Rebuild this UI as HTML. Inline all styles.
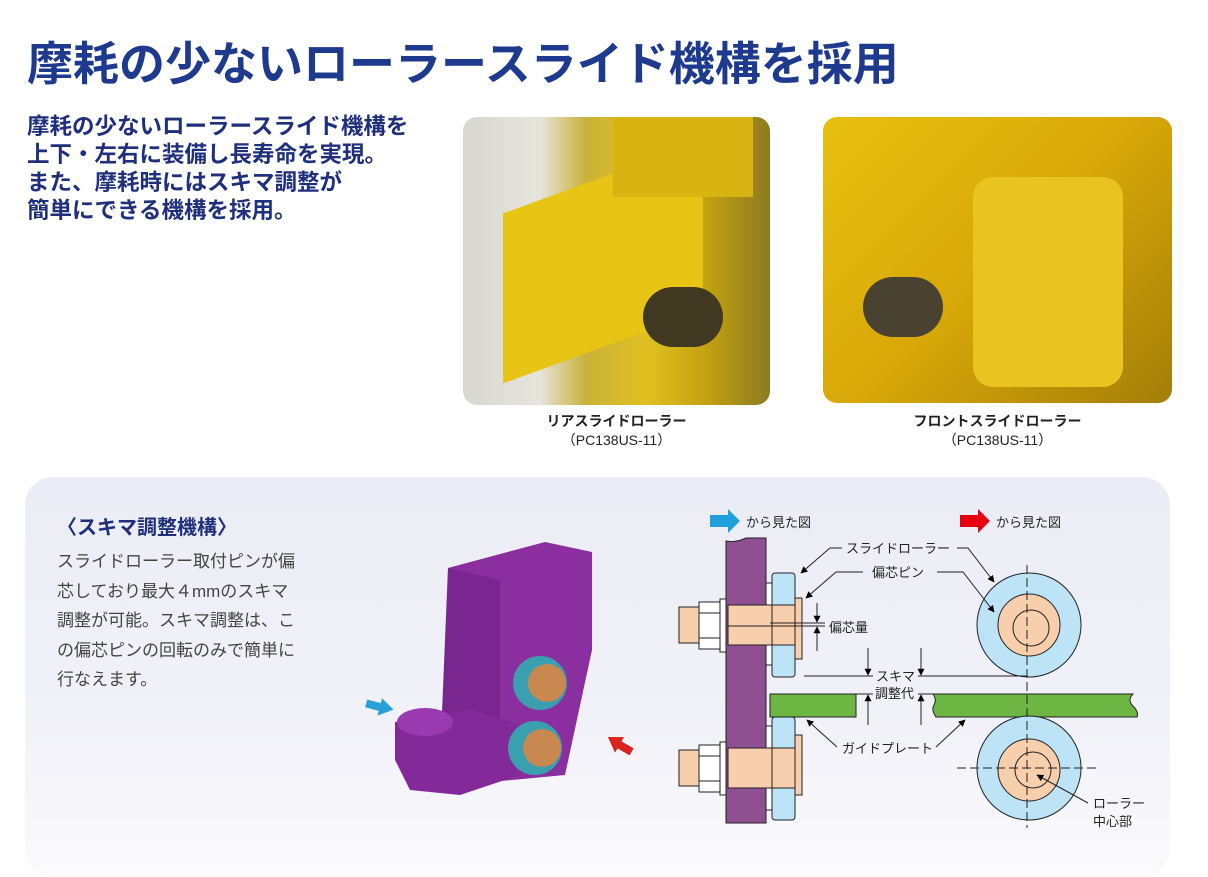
<!DOCTYPE html>
<html><head><meta charset="utf-8"><style>
body{margin:0;width:1208px;height:855px;position:relative;background:#fff;overflow:hidden;font-family:"Liberation Sans","Noto Sans CJK JP",sans-serif}
.a{position:absolute;white-space:nowrap}
</style></head><body>
<div class="a" style="left:27px;top:28px;font-size:46px;font-weight:bold;color:#1d3a8e;letter-spacing:0px">摩耗の少ないローラースライド機構を採用</div>
<div class="a" style="left:27px;top:113px;font-size:22.5px;line-height:28px;font-weight:bold;color:#1f2f7c">摩耗の少ないローラースライド機構を<br>上下・左右に装備し長寿命を実現。<br>また、摩耗時にはスキマ調整が<br>簡単にできる機構を採用。</div>

<div class="a" style="left:463px;top:117px;width:307px;height:288px;border-radius:14px;overflow:hidden;background:linear-gradient(90deg,#d8d8d0 0,#e6e4dc 25%,#c9b23a 40%,#e0c020 60%,#c2a010 80%,#8c7a20 100%)">
<div style="position:absolute;left:40px;top:60px;width:200px;height:170px;background:#e8c414;transform:skewY(-20deg)"></div>
<div style="position:absolute;left:150px;top:0;width:140px;height:80px;background:#d8b412"></div>
<div style="position:absolute;left:180px;top:170px;width:80px;height:60px;background:#403820;border-radius:30px"></div>
</div>
<div class="a" style="left:823px;top:117px;width:349px;height:286px;border-radius:14px;overflow:hidden;background:linear-gradient(135deg,#e8c010,#d8a808 50%,#a47e08)">
<div style="position:absolute;left:150px;top:60px;width:150px;height:210px;background:#e9c420;border-radius:20px"></div>
<div style="position:absolute;left:40px;top:160px;width:80px;height:60px;background:#4a4230;border-radius:30px"></div>
</div>
<div class="a" style="left:463px;width:307px;top:412px;text-align:center;font-size:14px;line-height:19px;color:#222"><b>リアスライドローラー</b><br>（PC138US-11）</div>
<div class="a" style="left:823px;width:349px;top:412px;text-align:center;font-size:14px;line-height:19px;color:#222"><b>フロントスライドローラー</b><br>（PC138US-11）</div>

<div class="a" style="left:25px;top:477px;width:1145px;height:400px;border-radius:28px;background:linear-gradient(180deg,#ececf6 0,#f1f1f8 60%,#fbfbfd 100%)"></div>
<div class="a" style="left:57px;top:511px;font-size:20px;font-weight:bold;color:#1f2f7c">〈スキマ調整機構〉</div>
<div class="a" style="left:57px;top:547px;font-size:17px;line-height:29.5px;color:#444">スライドローラー取付ピンが偏<br>芯しており最大４mmのスキマ<br>調整が可能。スキマ調整は、こ<br>の偏芯ピンの回転のみで簡単に<br>行なえます。</div>

<svg class="a" style="left:0;top:0" width="1208" height="855" font-family="Liberation Sans,Noto Sans CJK JP,sans-serif">
<defs><marker id="m" viewBox="0 0 10 10" refX="9" refY="5" markerWidth="7" markerHeight="7" orient="auto-start-reverse"><path d="M0,0L10,5L0,10z" fill="#000"/></marker></defs>
<!-- part -->
<g>
<polygon points="448,568 545,542 592,552 592,650 565,775 490,782 445,760" fill="#8a2ea0"/>
<polygon points="448,568 500,580 500,770 440,760" fill="#7a2690"/>
<polygon points="395,722 470,710 540,730 520,775 460,795 410,790 395,760" fill="#84299a"/>
<ellipse cx="425" cy="722" rx="28" ry="14" fill="#9a3ab0"/>
<circle cx="540" cy="683" r="27" fill="#3aa0b0"/><circle cx="547" cy="683" r="19" fill="#c88850"/>
<circle cx="535" cy="748" r="27" fill="#3aa0b0"/><circle cx="542" cy="748" r="19" fill="#c88850"/>
<path d="M394,706l-14,-8v5h-14v8h14v5z" fill="#2aa0d8" transform="rotate(15 380 706)"/>
<path d="M606,744l14,-8v5h14v8h-14v5z" fill="#d8241c" transform="rotate(30 620 744)"/>
</g>
<!-- view arrows -->
<path d="M710,515h18v-6l12,12-12,12v-6h-18z" fill="#1ea0dc"/>
<path d="M960,515h18v-6l12,12-12,12v-6h-18z" fill="#e60012"/>
<g font-size="13" fill="#222">
<text x="746" y="527">から見た図</text><text x="996" y="527">から見た図</text>
<text x="846" y="553">スライドローラー</text><text x="872" y="577">偏芯ピン</text>
<text x="829" y="632">偏芯量</text><text x="876" y="681">スキマ</text><text x="875" y="698">調整代</text>
<text x="842" y="753">ガイドプレート</text><text x="1093" y="808">ローラー</text><text x="1093" y="826">中心部</text>
</g>
<g stroke="#222" stroke-width="1">
<path d="M726,823V541q10,2 20,-3h20V823z" fill="#8e5090"/>
<rect x="766" y="583" width="6" height="82" fill="#fff"/><rect x="766" y="726" width="6" height="84" fill="#fff"/>
<rect x="772" y="573" width="23" height="104" rx="3" fill="#bde3f6"/>
<rect x="772" y="717" width="23" height="103" rx="3" fill="#bde3f6"/>
<rect x="795" y="598" width="7" height="61" fill="#f8cfac"/><rect x="795" y="735" width="7" height="60" fill="#f8cfac"/>
<rect x="728" y="605" width="67" height="40" fill="#f8cfac"/><rect x="728" y="748" width="67" height="40" fill="#f8cfac"/>
<line x1="772" y1="605" x2="772" y2="645"/><line x1="772" y1="748" x2="772" y2="788"/>
<line x1="728" y1="626" x2="825" y2="626"/><line x1="770" y1="623" x2="825" y2="623"/>
<rect x="720" y="599" width="6" height="53" fill="#fff"/><rect x="699" y="602" width="21" height="47" fill="#fff"/>
<line x1="699" y1="613" x2="720" y2="613"/><line x1="699" y1="638" x2="720" y2="638"/>
<rect x="679" y="607" width="20" height="36" fill="#f8cfac"/>
<rect x="720" y="742" width="6" height="53" fill="#fff"/><rect x="699" y="745" width="21" height="47" fill="#fff"/>
<line x1="699" y1="756" x2="720" y2="756"/><line x1="699" y1="781" x2="720" y2="781"/>
<rect x="679" y="750" width="20" height="36" fill="#f8cfac"/>
<rect x="770" y="694" width="86" height="23" fill="#6db644"/>
<path d="M933,694H1133q-6,6 0,12t4,11H936q-5,-7 -2,-12t-1,-11z" fill="#6db644"/>
<circle cx="1029" cy="625" r="52" fill="#bde3f6"/><circle cx="1029" cy="625" r="31" fill="#f8cfac"/><circle cx="1031" cy="628" r="18" fill="none"/>
<circle cx="1029" cy="768" r="52" fill="#bde3f6"/><circle cx="1029" cy="770" r="31" fill="#f8cfac"/><circle cx="1033" cy="770" r="18" fill="none"/>
</g>
<g stroke="#222" stroke-width="1" fill="none">
<line x1="1027" y1="565" x2="1027" y2="828" stroke-dasharray="9,4"/>
<line x1="957" y1="768" x2="1100" y2="768" stroke-dasharray="9,4"/>
<polyline points="842,548 830,548 801,573" marker-end="url(#m)"/>
<polyline points="957,548 968,548 994,582" marker-end="url(#m)"/>
<polyline points="863,572 836,572 806,598" marker-end="url(#m)"/>
<polyline points="937,572 963,572 994,612" marker-end="url(#m)"/>
<line x1="817" y1="603" x2="817" y2="622" marker-end="url(#m)"/><line x1="817" y1="651" x2="817" y2="627" marker-end="url(#m)"/>
<line x1="804" y1="676" x2="873" y2="676"/><line x1="918" y1="676" x2="1027" y2="676"/>
<line x1="856" y1="694" x2="873" y2="694"/><line x1="918" y1="694" x2="933" y2="694"/>
<line x1="868" y1="648" x2="868" y2="675" marker-end="url(#m)"/><line x1="921" y1="648" x2="921" y2="675" marker-end="url(#m)"/>
<line x1="868" y1="725" x2="868" y2="695" marker-end="url(#m)"/><line x1="921" y1="725" x2="921" y2="695" marker-end="url(#m)"/>
<line x1="837" y1="747" x2="807" y2="720" marker-end="url(#m)"/><line x1="936" y1="747" x2="965" y2="720" marker-end="url(#m)"/>
<line x1="1088" y1="803" x2="1037" y2="775" marker-end="url(#m)"/>
</g>
</svg>
</body></html>
